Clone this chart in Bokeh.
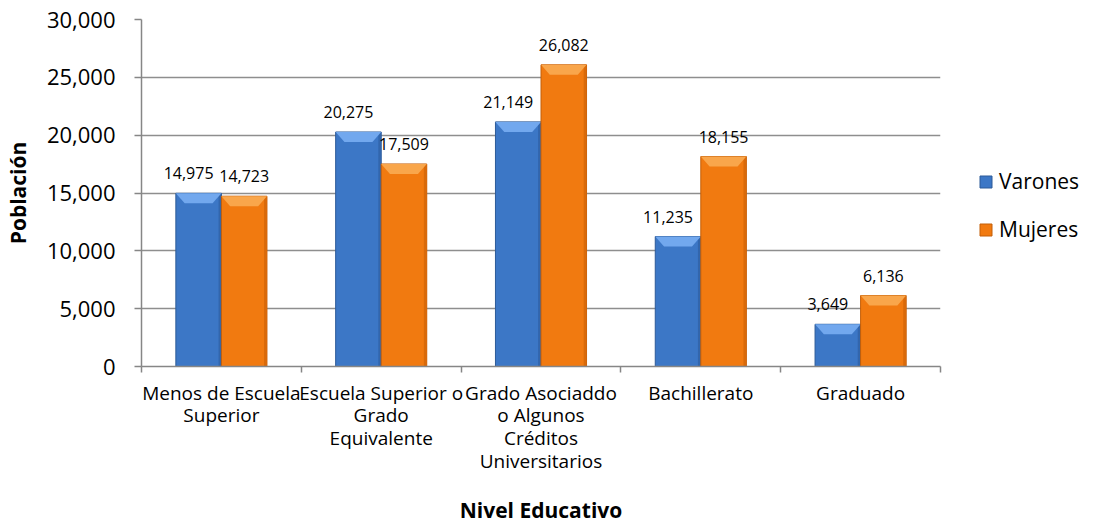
from bokeh.plotting import figure
from bokeh.models import (FixedTicker, NumeralTickFormatter, Legend, LegendItem, Range1d)
from bokeh.embed import file_html
from bokeh.resources import INLINE
from bokeh.core.properties import value

# ---- data ----
categories = [
    "Menos de Escuela\nSuperior",
    "Escuela Superior o\nGrado\nEquivalente",
    "Grado Asociaddo\no Algunos\nCréditos\nUniversitarios",
    "Bachillerato",
    "Graduado",
]
varones = [14975, 20275, 21149, 11235, 3649]
mujeres = [14723, 17509, 26082, 18155, 6136]
series_names = ["Varones", "Mujeres"]
y_ticks = [0, 5000, 10000, 15000, 20000, 25000, 30000]
x_title = "Nivel Educativo"
y_title = "Población"

FONT = "Open Sans"
YMAX = 30000
FRAME_H = 347
n = len(categories)
centers = [i + 0.5 for i in range(n)]
bw = 0.285
off = 0.1425

p = figure(
    frame_width=799, frame_height=FRAME_H,
    x_range=Range1d(0, n), y_range=Range1d(0, YMAX),
    output_backend="svg", toolbar_location=None,
    min_border_left=133, min_border_right=10,
    min_border_top=19, min_border_bottom=4,
    background_fill_color="white", border_fill_color="white",
)
p.outline_line_color = None

# grid
p.xgrid.visible = False
p.ygrid.ticker = FixedTicker(ticks=y_ticks)
p.ygrid.grid_line_color = "#8e8e8e"
p.ygrid.grid_line_width = 1.5

# y axis
p.yaxis.ticker = FixedTicker(ticks=y_ticks)
p.yaxis.formatter = NumeralTickFormatter(format="0,0")
p.yaxis.major_label_text_font = FONT
p.yaxis.major_label_text_font_size = "22px"
p.yaxis.major_label_text_color = "black"
p.yaxis.axis_line_color = "#868686"
p.yaxis.axis_line_width = 1.5
p.yaxis.major_tick_line_color = "#868686"
p.yaxis.major_tick_line_width = 1.5
p.yaxis.major_tick_out = 7
p.yaxis.major_tick_in = 0
p.yaxis.minor_tick_line_color = None
p.yaxis.major_label_standoff = 19
p.yaxis.axis_label = y_title
p.yaxis.axis_label_text_font = FONT
p.yaxis.axis_label_text_font_size = "21px"
p.yaxis.axis_label_text_font_style = "bold"
p.yaxis.axis_label_text_color = "black"
p.yaxis.axis_label_standoff = 12

# x axis
p.xaxis.ticker = FixedTicker(ticks=centers, minor_ticks=list(range(n + 1)))
p.xaxis.major_label_overrides = {c: lab for c, lab in zip(centers, categories)}
p.xaxis.major_tick_line_color = None
p.xaxis.major_tick_out = 0
p.xaxis.major_tick_in = 0
p.xaxis.minor_tick_line_color = "#868686"
p.xaxis.minor_tick_line_width = 1.5
p.xaxis.minor_tick_out = 6
p.xaxis.minor_tick_in = 0
p.xaxis.axis_line_color = "#868686"
p.xaxis.axis_line_width = 1.5
p.xaxis.major_label_text_font = FONT
p.xaxis.major_label_text_font_size = "19px"
p.xaxis.major_label_text_line_height = 0.88
p.xaxis.major_label_text_color = "black"
p.xaxis.major_label_standoff = 7
p.xaxis.axis_label = x_title
p.xaxis.axis_label_text_font = FONT
p.xaxis.axis_label_text_font_size = "21px"
p.xaxis.axis_label_text_font_style = "bold"
p.xaxis.axis_label_text_color = "black"
p.xaxis.axis_label_standoff = 19

# bars with simple bevel effect
bevel = YMAX / FRAME_H * 10
inset = 0.055
side = 0.018
styles = [
    dict(body="#3c77c6", edge="#2c5a98", top="#72a8ee", dark="#3266ad", dx=-10),
    dict(body="#f17a10", edge="#c35e08", top="#f9a64b", dark="#d96a0a", dx=0),
]
renderers = []
for vals, shift, st in zip([varones, mujeres], [-off, off], styles):
    xs = [c + shift for c in centers]
    r = p.vbar(x=xs, top=vals, bottom=0, width=bw, fill_color=st["body"],
               line_color=st["edge"], line_width=1)
    renderers.append(r)
    # darker right side strip
    p.vbar(x=[x + bw / 2 - side / 2 for x in xs], top=vals, bottom=0, width=side,
           fill_color=st["dark"], line_color=None)
    pxs = [[x - bw / 2, x + bw / 2, x + bw / 2 - inset, x - bw / 2 + inset] for x in xs]
    pys = [[v, v, v - bevel, v - bevel] for v in vals]
    p.patches(xs=pxs, ys=pys, fill_color=st["top"], line_color=None)
    p.text(x=xs, y=vals, text=[f"{v:,}" for v in vals], text_align="center",
           text_baseline="middle", x_offset=st["dx"], y_offset=-20,
           text_font=value(FONT), text_font_size="16px", text_color="black")

legend = Legend(
    items=[LegendItem(label=nm, renderers=[r]) for nm, r in zip(series_names, renderers)],
    location=(38, 123), orientation="vertical",
    glyph_width=15, glyph_height=15, label_height=28, spacing=20,
    label_standoff=6, padding=0, margin=0,
    label_text_font=FONT, label_text_font_size="21px", label_text_color="black",
    border_line_color=None, background_fill_alpha=0,
)
p.add_layout(legend, "right")

open("out.html", "w").write(file_html(p, INLINE))
